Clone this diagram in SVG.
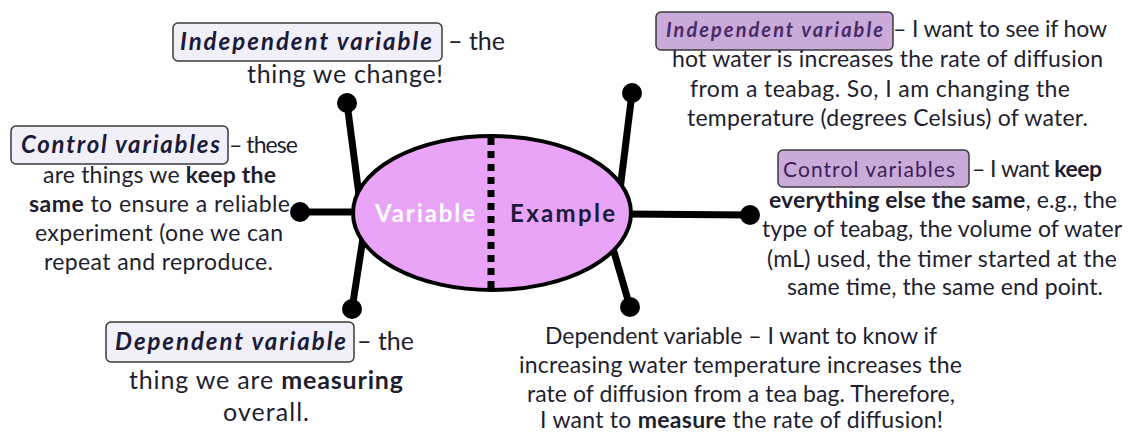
<svg xmlns="http://www.w3.org/2000/svg" width="1128" height="435" viewBox="0 0 1128 435">
<style>
text{font-family:Lato,"Noto Sans","Open Sans",sans-serif;font-size:23px;fill:#1e1e30}
.hl{font-size:24px;font-weight:bold;font-style:italic;fill:#1a1a3a}
.hr{font-size:20px;font-weight:bold;font-style:italic;fill:#4a2a68}
.hr2{font-size:21px;fill:#3e2058}
.big{font-size:25px}
.b{font-weight:bold}
.boxl{fill:#f1eff8;stroke:#3a3a3a;stroke-width:1.5}
.boxr{fill:#c9aad9;stroke:#3a3a3a;stroke-width:1.5}
.con{stroke:#000;stroke-width:7;stroke-linecap:butt;fill:none}
.dot{fill:#000}
</style>
<rect width="1128" height="435" fill="#fff"/>
<g id="connectors">
<line class="con" x1="359" y1="195" x2="347" y2="103"/><circle class="dot" cx="347" cy="103" r="10"/>
<line class="con" x1="358" y1="212" x2="300" y2="212"/><circle class="dot" cx="300" cy="212" r="10"/>
<line class="con" x1="363" y1="238" x2="352" y2="309"/><circle class="dot" cx="352" cy="309" r="10"/>
<line class="con" x1="620" y1="190" x2="632" y2="93"/><circle class="dot" cx="632" cy="93" r="10"/>
<line class="con" x1="626" y1="214" x2="750" y2="215"/><circle class="dot" cx="750" cy="215" r="10"/>
<line class="con" x1="612" y1="245" x2="630" y2="307"/><circle class="dot" cx="630" cy="307" r="10"/>
</g>
<g id="center">
<ellipse cx="492" cy="213" rx="139" ry="77" fill="#e9a4f8" stroke="#000" stroke-width="4"/>
<line x1="491" y1="138" x2="491" y2="290" stroke="#000" stroke-width="7" stroke-dasharray="7 6"/>
<text x="375" y="222" textLength="100" style="font-size:24px;font-weight:bold;fill:#fff">Variable</text>
<text x="510" y="222" textLength="105" style="font-size:24px;font-weight:bold;fill:#1a1a3a">Example</text>
</g>
<g id="iv-left">
<rect class="boxl" x="173" y="23" width="269" height="38" rx="5"/>
<text class="hl" x="180" y="50" textLength="252">Independent variable</text>
<text class="big" x="448" y="50">– the</text>
<text class="big" x="247" y="83" textLength="196">thing we change!</text>
</g>
<g id="cv-left">
<rect class="boxl" x="11" y="126" width="217" height="38" rx="5"/>
<text class="hl" x="21" y="153" textLength="199">Control variables</text>
<text x="229" y="153" textLength="69">– these</text>
<text x="43" y="183" textLength="233">are things we <tspan class="b">keep the</tspan></text>
<text x="29" y="212" textLength="261"><tspan class="b">same</tspan> to ensure a reliable</text>
<text x="35" y="241" textLength="248">experiment (one we can</text>
<text x="44" y="270" textLength="229">repeat and reproduce.</text>
</g>
<g id="dv-left">
<rect class="boxl" x="106" y="322" width="248" height="40" rx="5"/>
<text class="hl" x="115" y="350" textLength="231">Dependent variable</text>
<text class="big" x="357" y="350">– the</text>
<text class="big" x="129" y="389" textLength="274">thing we are <tspan class="b">measuring</tspan></text>
<text class="big" x="223" y="421" textLength="86">overall.</text>
</g>
<g id="iv-right">
<rect class="boxr" x="656" y="12" width="237" height="38" rx="5"/>
<text class="hr" x="666" y="37" textLength="217">Independent variable</text>
<text x="893" y="37" textLength="214">– I want to see if how</text>
<text x="672" y="67" textLength="431">hot water is increases the rate of diffusion</text>
<text x="690" y="97" textLength="380">from a teabag. So, I am changing the</text>
<text x="687" y="126" textLength="401">temperature (degrees Celsius) of water.</text>
</g>
<g id="cv-right">
<rect class="boxr" x="778" y="150" width="191" height="37" rx="5"/>
<text class="hr2" x="783" y="177" textLength="172">Control variables</text>
<text x="972" y="177" textLength="130">– I want <tspan class="b">keep</tspan></text>
<text x="769" y="208" textLength="348"><tspan class="b">everything else the same</tspan>, e.g., the</text>
<text x="762" y="237" textLength="360">type of teabag, the volume of water</text>
<text x="767" y="267" textLength="350">(mL) used, the timer started at the</text>
<text x="787" y="295" textLength="316">same time, the same end point.</text>
</g>
<g id="dv-right">
<text x="545" y="344" textLength="392">Dependent variable – I want to know if</text>
<text x="519" y="373" textLength="443">increasing water temperature increases the</text>
<text x="527" y="402" textLength="428">rate of diffusion from a tea bag. Therefore,</text>
<text x="540" y="428" textLength="403">I want to <tspan class="b">measure</tspan> the rate of diffusion!</text>
</g>
</svg>
